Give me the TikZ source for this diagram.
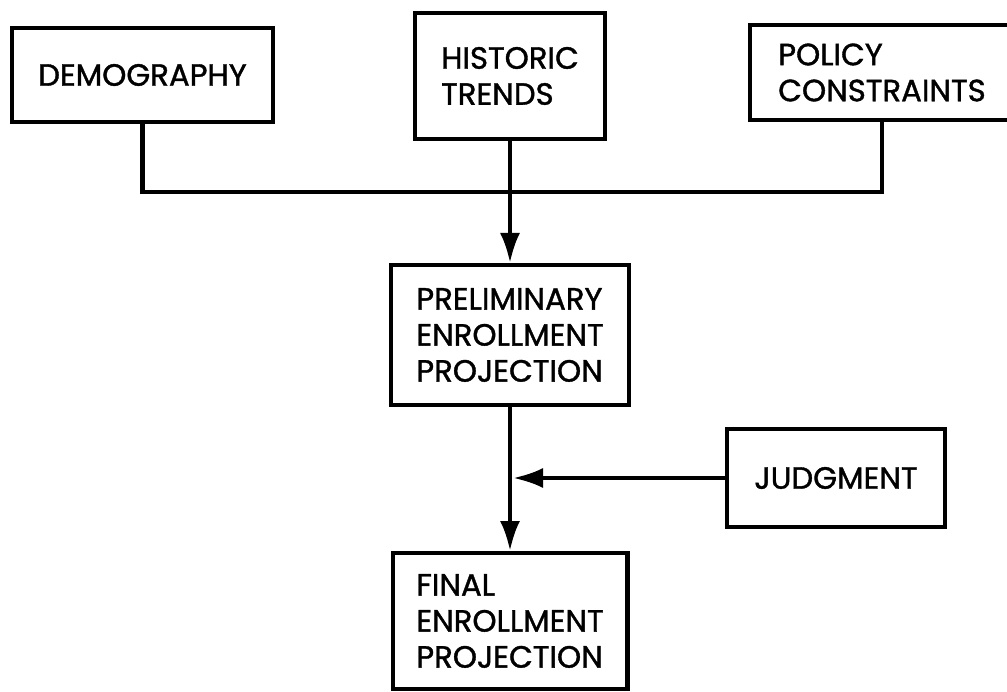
\documentclass[tikz,border=0pt]{standalone}
\usepackage{fontspec}
\setmainfont{Poppins}[BoldFont=Poppins,BoldFeatures={FakeBold=1.2}]
\usetikzlibrary{arrows.meta}
\begin{document}
\begin{tikzpicture}[x=0.02cm,y=-0.02cm,->,>={Latex[length=6mm,width=4mm]},
    line width=2.3pt,
    box/.style={draw,align=left,inner sep=0pt,font=\fontsize{17.5}{20.5}\selectfont\bfseries}]
        \useasboundingbox (0,0) rectangle (1007,692);
        \node[box,minimum width=5.22cm,minimum height=1.88cm] (demo) at (142.5,75) {DEMOGRAPHY};
        \node[box,minimum width=3.8cm,minimum height=2.52cm] (hist) at (510,76) {HISTORIC\\TRENDS};
        \node[box,minimum width=5.28cm,minimum height=1.9cm] (policy) at (882,72.5) {POLICY\\CONSTRAINTS};
        \node[box,minimum width=4.76cm,minimum height=2.8cm] (prelim) at (510,335) {PRELIMINARY\\ENROLLMENT\\PROJECTION};
        \node[box,minimum width=4.36cm,minimum height=1.96cm] (judg) at (836,478) {JUDGMENT};
        \node[box,minimum width=4.7cm,minimum height=2.72cm] (final) at (510,621) {FINAL\\ENROLLMENT\\PROJECTION};
        \coordinate (bus) at (510,192);
        \draw[-] (demo.south) |- (bus) -| (policy.south);
        \draw (hist) -- (prelim);
        \draw (prelim) -- (final);
        \draw (judg.west) -- ([xshift=0.06cm]judg.west -| prelim.south);
      \end{tikzpicture}
\end{document}
